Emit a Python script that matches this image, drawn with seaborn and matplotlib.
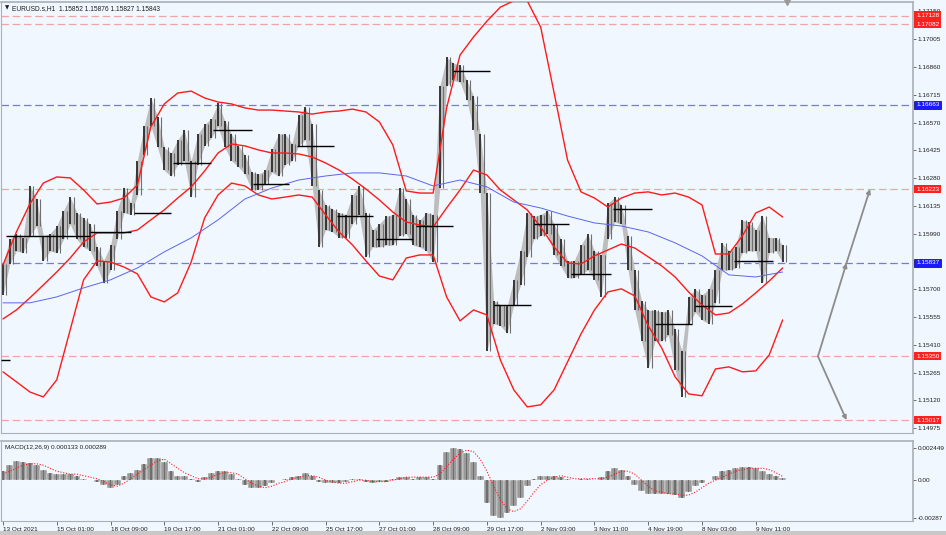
"""
EURUSD.s H1 chart with Bollinger bands, moving average, daily levels and MACD.
Writes out.png.
"""
import numpy as np
import pandas as pd
import matplotlib
matplotlib.use("Agg")
import matplotlib.pyplot as plt
import seaborn as sns

# ── data ───────────────────────────────────────────────────────────────────
# price ranges, one entry per 4 hourly bars
bar_high = [1.1583, 1.1596, 1.1599, 1.1597, 1.1624, 1.1617, 1.1598, 1.1599, 1.1603, 1.1611,
            1.1618, 1.1610, 1.1607, 1.1604, 1.1592, 1.1585, 1.1593, 1.1611, 1.1623, 1.1615,
            1.1637, 1.1655, 1.1670, 1.1660, 1.1644, 1.1641, 1.1648, 1.1653, 1.1637, 1.1651,
            1.1656, 1.1659, 1.1667, 1.1658, 1.1651, 1.1645, 1.1640, 1.1631, 1.1630, 1.1632,
            1.1643, 1.1651, 1.1651, 1.1646, 1.1661, 1.1665, 1.1656, 1.1622, 1.1614, 1.1612,
            1.1610, 1.1609, 1.1619, 1.1624, 1.1610, 1.1601, 1.1604, 1.1608, 1.1609, 1.1623,
            1.1617, 1.1609, 1.1606, 1.1610, 1.1609, 1.1676, 1.1691, 1.1688, 1.1687, 1.1679,
            1.1671, 1.1651, 1.1620, 1.1564, 1.1562, 1.1561, 1.1575, 1.1590, 1.1610, 1.1608,
            1.1609, 1.1611, 1.1604, 1.1596, 1.1585, 1.1585, 1.1593, 1.1599, 1.1590, 1.1588,
            1.1615, 1.1618, 1.1614, 1.1598, 1.1580, 1.1564, 1.1559, 1.1559, 1.1558, 1.1559,
            1.1549, 1.1538, 1.1566, 1.1570, 1.1567, 1.1570, 1.1580, 1.1594, 1.1590, 1.1592,
            1.1606, 1.1605, 1.1601, 1.1608, 1.1597, 1.1597, 1.1593]
bar_low = [1.1567, 1.1583, 1.1590, 1.1589, 1.1598, 1.1603, 1.1585, 1.1590, 1.1589, 1.1596,
           1.1604, 1.1596, 1.1592, 1.1590, 1.1582, 1.1573, 1.1580, 1.1596, 1.1610, 1.1609,
           1.1619, 1.1640, 1.1655, 1.1644, 1.1632, 1.1629, 1.1635, 1.1637, 1.1618, 1.1635,
           1.1645, 1.1649, 1.1655, 1.1644, 1.1637, 1.1634, 1.1630, 1.1622, 1.1622, 1.1625,
           1.1631, 1.1629, 1.1635, 1.1637, 1.1645, 1.1648, 1.1624, 1.1592, 1.1601, 1.1600,
           1.1597, 1.1597, 1.1604, 1.1609, 1.1587, 1.1592, 1.1592, 1.1593, 1.1593, 1.1598,
           1.1599, 1.1593, 1.1592, 1.1590, 1.1584, 1.1623, 1.1676, 1.1679, 1.1678, 1.1669,
           1.1653, 1.1620, 1.1538, 1.1552, 1.1551, 1.1547, 1.1562, 1.1572, 1.1587, 1.1596,
           1.1598, 1.1599, 1.1588, 1.1582, 1.1576, 1.1576, 1.1578, 1.1580, 1.1575, 1.1566,
           1.1596, 1.1605, 1.1604, 1.1580, 1.1559, 1.1543, 1.1529, 1.1543, 1.1543, 1.1546,
           1.1528, 1.1514, 1.1552, 1.1558, 1.1554, 1.1552, 1.1563, 1.1580, 1.1580, 1.1581,
           1.1589, 1.1590, 1.1590, 1.1573, 1.1589, 1.1590, 1.1584]

# Bollinger bands, one entry per 8 hourly bars
bb_upper = [1.15827, 1.15999, 1.16145, 1.16254, 1.16286, 1.16281, 1.16218, 1.16145, 1.16155, 1.16176,
            1.16244, 1.16547, 1.16667, 1.16724, 1.16734, 1.16698, 1.16677, 1.16667, 1.16646, 1.16635,
            1.16635, 1.16630, 1.16625, 1.16614, 1.16625, 1.16630, 1.16640, 1.16625, 1.16573, 1.16453,
            1.16213, 1.16202, 1.16202, 1.16646, 1.16922, 1.17016, 1.17099, 1.17172, 1.17205, 1.17205,
            1.17068, 1.16724, 1.16374, 1.16208, 1.16176, 1.16129, 1.16176, 1.16202, 1.16208, 1.16192,
            1.16202, 1.16181, 1.16140, 1.15884, 1.15884, 1.15978, 1.16098, 1.16129, 1.16077]
bb_middle = [1.15545, 1.15592, 1.15655, 1.15722, 1.15790, 1.15863, 1.15947, 1.15994, 1.15994, 1.15994,
             1.16009, 1.16062, 1.16114, 1.16176, 1.16234, 1.16317, 1.16411, 1.16458, 1.16448, 1.16427,
             1.16411, 1.16411, 1.16406, 1.16390, 1.16359, 1.16322, 1.16275, 1.16223, 1.16166, 1.16103,
             1.16051, 1.16035, 1.16025, 1.16124, 1.16218, 1.16322, 1.16296, 1.16218, 1.16166, 1.16114,
             1.16025, 1.15921, 1.15837, 1.15832, 1.15874, 1.15905, 1.15936, 1.15915, 1.15869, 1.15822,
             1.15764, 1.15686, 1.15618, 1.15566, 1.15576, 1.15623, 1.15681, 1.15743, 1.15811]
bb_lower = [1.15269, 1.15217, 1.15164, 1.15138, 1.15227, 1.15488, 1.15749, 1.15848, 1.15842, 1.15816,
            1.15780, 1.15660, 1.15634, 1.15681, 1.15842, 1.16072, 1.16192, 1.16254, 1.16239, 1.16192,
            1.16171, 1.16181, 1.16192, 1.16181, 1.16088, 1.15999, 1.15931, 1.15848, 1.15769, 1.15749,
            1.15863, 1.15879, 1.15879, 1.15660, 1.15535, 1.15592, 1.15566, 1.15331, 1.15175, 1.15086,
            1.15097, 1.15175, 1.15321, 1.15467, 1.15592, 1.15686, 1.15702, 1.15665, 1.15509, 1.15394,
            1.15243, 1.15154, 1.15144, 1.15284, 1.15295, 1.15269, 1.15274, 1.15357, 1.15540]

# moving average, one entry per 16 hourly bars
ma_line = [1.15629, 1.15629, 1.15660, 1.15707, 1.15749, 1.15811, 1.15895, 1.15968, 1.16062, 1.16171,
           1.16228, 1.16270, 1.16291, 1.16307, 1.16307, 1.16291, 1.16239, 1.16270, 1.16234, 1.16155,
           1.16124, 1.16082, 1.16046, 1.16030, 1.15999, 1.15942, 1.15874, 1.15775, 1.15764, 1.15790]

# daily level segments: first bar, last bar, price
day_start = [-1, 2, 28, 52, 78, 101, 125, 149, 175, 199, 222, 246, 268, 292, 316, 338, 363, 388, 412, 435]
day_end = [4, 28, 52, 76, 100, 124, 148, 170, 197, 220, 244, 268, 290, 314, 337, 362, 386, 410, 434, 458]
day_level = [1.1533, 1.1598, 1.1598, 1.1600, 1.1610, 1.1636, 1.1653, 1.1625, 1.1645, 1.1608,
             1.1596, 1.1603, 1.1684, 1.1562, 1.1604, 1.1578, 1.1612, 1.1552, 1.1561, 1.1585]

# horizontal levels
red_levels = [1.17128, 1.17082, 1.16223, 1.15350, 1.15017]
blue_levels = [1.16663, 1.15837]

# projection arrows (bar, price)
arrow_start = (485, 1.15350)
arrow_up = [(502, 1.15837), (516, 1.16223)]
arrow_down = (502, 1.15017)

# MACD histogram and signal, one entry per 4 hourly bars
macd_main = [0.00068, 0.00114, 0.00143, 0.00137, 0.00131, 0.00114, 0.00080, 0.00051, 0.00046, 0.00046,
             0.00048, 0.00034, 0.00011, 0.0, -0.00011, -0.00034, -0.00063, -0.00034, 0.00034, 0.00051,
             0.00080, 0.00125, 0.00171, 0.00171, 0.00137, 0.00068, 0.00034, 0.00029, 0.00011, -0.00011,
             0.00023, 0.00051, 0.00068, 0.00068, 0.00046, 0.00011, -0.00034, -0.00057, -0.00057, -0.00046,
             -0.00023, 0.0, 0.00011, 0.00023, 0.00034, 0.00051, 0.00034, -0.00011, -0.00023, -0.00023,
             -0.00023, -0.00011, 0.00011, 0.00011, -0.00011, -0.00023, -0.00011, -0.00011, 0.00011, 0.00023,
             0.00023, 0.00011, 0.00023, 0.00023, 0.00011, 0.00114, 0.00217, 0.002449, 0.00240, 0.00205,
             0.00137, 0.00034, -0.00171, -0.00274, -0.00287, -0.00251, -0.00194, -0.00137, -0.00046, 0.00011,
             0.00034, 0.00034, 0.00034, 0.00023, 0.00011, 0.0, 0.00011, 0.00011, 0.0, 0.00023,
             0.00068, 0.00091, 0.00080, 0.00034, -0.00034, -0.00080, -0.00103, -0.00103, -0.00103, -0.00103,
             -0.00114, -0.00137, -0.00091, -0.00046, -0.00023, 0.0, 0.00034, 0.00068, 0.00080, 0.00091,
             0.00103, 0.00103, 0.00091, 0.00068, 0.00046, 0.00034, 0.000133]
macd_signal = [0.00046, 0.00068, 0.00091, 0.00114, 0.00125, 0.00125, 0.00114, 0.00091, 0.00068, 0.00057,
               0.00046, 0.00046, 0.00034, 0.00023, 0.00011, -0.00011, -0.00034, -0.00046, -0.00023, 0.00011,
               0.00046, 0.00080, 0.00114, 0.00148, 0.00160, 0.00125, 0.00091, 0.00057, 0.00034, 0.00011,
               0.00011, 0.00023, 0.00046, 0.00057, 0.00057, 0.00046, 0.00011, -0.00023, -0.00046, -0.00057,
               -0.00046, -0.00023, -0.00011, 0.00011, 0.00023, 0.00034, 0.00034, 0.00023, 0.0, -0.00011,
               -0.00023, -0.00023, -0.00011, 0.0, 0.0, -0.00011, -0.00011, -0.00011, 0.0, 0.00011,
               0.00023, 0.00023, 0.00023, 0.00023, 0.00023, 0.00046, 0.00103, 0.00160, 0.00205, 0.00228,
               0.00217, 0.00160, 0.00068, -0.00046, -0.00148, -0.00217, -0.00239, -0.00217, -0.00160, -0.00091,
               -0.00034, 0.0, 0.00023, 0.00034, 0.00023, 0.00011, 0.00011, 0.00011, 0.00011, 0.00011,
               0.00023, 0.00046, 0.00068, 0.00068, 0.00046, 0.0, -0.00046, -0.00080, -0.00091, -0.00103,
               -0.00103, -0.00114, -0.00114, -0.00091, -0.00057, -0.00023, 0.0, 0.00023, 0.00046, 0.00068,
               0.00080, 0.00091, 0.00091, 0.00091, 0.00080, 0.00057, 0.000289]

# axis labels
time_labels = ["13 Oct 2021", "15 Oct 01:00", "18 Oct 09:00", "19 Oct 17:00", "21 Oct 01:00",
               "22 Oct 09:00", "25 Oct 17:00", "27 Oct 01:00", "28 Oct 09:00", "29 Oct 17:00",
               "2 Nov 03:00", "3 Nov 11:00", "4 Nov 19:00", "8 Nov 03:00", "9 Nov 11:00"]
price_ticks = [1.17150, 1.17005, 1.16860, 1.16715, 1.16570, 1.16425, 1.16280, 1.16135, 1.15990,
               1.15700, 1.15555, 1.15410, 1.15265, 1.15120, 1.14975]
macd_ticks = [0.002449, 0.0, -0.00287]
macd_tick_labels = ["0.002449", "0.00", "-0.00287"]

BG = "#f0f7fe"
RED = "#ff1a1a"
LEVEL_RED = "#f4a3a3"
LEVEL_BLUE = "#7474ff"
FRAME = "#a9b0b8"


def main():
    sns.set_theme(style="white")
    plt.rcParams["font.family"] = ["Liberation Sans", "DejaVu Sans"]

    fig = plt.figure(figsize=(9.46, 5.35), dpi=100, facecolor=BG)
    ax = fig.add_axes([0.001, 0.1907, 0.9640, 0.8056], facecolor=BG)
    ax2 = fig.add_axes([0.001, 0.0262, 0.9640, 0.1495], facecolor=BG)

    n = len(bar_high)
    x4 = np.arange(n) * 4
    x8 = np.arange(len(bb_upper)) * 8
    x16 = np.arange(len(ma_line)) * 16

    # ── main panel ────────────────────────────────────────────────────────
    for lv in red_levels:
        ax.axhline(lv, color=LEVEL_RED, lw=0.9, dashes=(6, 3), zorder=1)
    for lv in blue_levels:
        ax.axhline(lv, color=LEVEL_BLUE, lw=0.9, dashes=(6, 3), zorder=1)

    # candles: gray wick envelope with darker bodies
    ax.fill_between(x4, bar_low, bar_high, color="#bdbdbd", lw=0, zorder=2)
    ax.vlines(x4, bar_low, bar_high, color="#2a2a2a", lw=1.3, zorder=3)
    ax.vlines(x4 + 2, bar_low, bar_high, color="#707070", lw=0.8, zorder=3)

    bands = pd.DataFrame({"bar": x8, "upper": bb_upper, "middle": bb_middle, "lower": bb_lower})
    for col in ["upper", "middle", "lower"]:
        sns.lineplot(data=bands, x="bar", y=col, color=RED, lw=1.0, ax=ax, zorder=4)
    ma = pd.DataFrame({"bar": x16, "ma": ma_line})
    sns.lineplot(data=ma, x="bar", y="ma", color="#5b66ee", lw=0.7, ax=ax, zorder=4)

    ax.hlines(day_level, day_start, day_end, color="black", lw=1.0, zorder=5)

    arrow_kw = dict(arrowstyle="-|>", color="#8c8c8c", lw=1.3, mutation_scale=6, shrinkA=0, shrinkB=0)
    ax.annotate("", xy=arrow_up[0], xytext=arrow_start, arrowprops=arrow_kw)
    ax.annotate("", xy=arrow_up[1], xytext=arrow_up[0], arrowprops=arrow_kw)
    ax.annotate("", xy=arrow_down, xytext=arrow_start, arrowprops=arrow_kw)

    ax.set_xlim(-1.2, 541.5)
    ax.set_ylim(1.14950, 1.17199)
    ax.set(xlabel="", ylabel="")
    ax.set_xticks([])
    ax.yaxis.tick_right()
    ax.set_yticks(price_ticks)
    ax.set_yticklabels([f"{p:.5f}" for p in price_ticks])
    ax.tick_params(axis="y", right=True, length=2, width=0.6, color="#555555",
                   labelsize=4.6, pad=1.5, labelcolor="#202020")

    # price tags on the right axis
    ytr = ax.get_yaxis_transform()
    for lv in red_levels:
        ax.text(1.0035, lv, f"{lv:.5f}", transform=ytr, ha="left", va="center", fontsize=4.6,
                color="white", bbox=dict(boxstyle="square,pad=0.25", fc="#ff2020", ec="none"),
                clip_on=False, zorder=10)
    for lv in blue_levels:
        ax.text(1.0035, lv, f"{lv:.5f}", transform=ytr, ha="left", va="center", fontsize=4.6,
                color="white", bbox=dict(boxstyle="square,pad=0.25", fc="#1a1aff", ec="#000060", lw=0.5),
                clip_on=False, zorder=10)

    ax.text(0.004, 0.993, "\u25bc", transform=ax.transAxes, ha="left", va="top", fontsize=4,
            color="#202020", family=["DejaVu Sans"])
    ax.text(0.012, 0.994, "EURUSD.s,H1  1.15852 1.15876 1.15827 1.15843", transform=ax.transAxes,
            ha="left", va="top", fontsize=4.8, color="#202020")
    ax.plot([466.5], [1.17199], marker="v", ms=4, color="#9a9a9a", clip_on=False, zorder=10)

    # ── MACD panel ────────────────────────────────────────────────────────
    ax2.bar(x4, macd_main, width=4.0, color="#9a9a9a", edgecolor="white", lw=0.3, zorder=2)
    ax2.bar(x4, macd_main, width=0.8, color="#6e6e6e", edgecolor="none", zorder=2)
    sig = pd.DataFrame({"bar": x4, "signal": macd_signal})
    sns.lineplot(data=sig, x="bar", y="signal", color=RED, lw=0.8, ax=ax2, zorder=3)
    ax2.lines[-1].set_linestyle((0, (1, 1.5)))
    ax2.set_xlim(-1.2, 541.5)
    ax2.set_ylim(-0.0031, 0.00298)
    ax2.set(xlabel="", ylabel="")
    ax2.yaxis.tick_right()
    ax2.set_yticks(macd_ticks)
    ax2.set_yticklabels(macd_tick_labels)
    ax2.tick_params(axis="y", right=True, length=2, width=0.6, color="#555555",
                    labelsize=4.6, pad=1.5, labelcolor="#202020")
    ax2.set_xticks(np.arange(len(time_labels)) * 32)
    ax2.set_xticklabels(time_labels, ha="left")
    ax2.tick_params(axis="x", bottom=True, length=3, width=0.6, color="#555555",
                    labelsize=4.6, pad=1.0, labelcolor="#202020")
    ax2.text(0.004, 0.95, "MACD(12,26,9) 0.000133 0.000289", transform=ax2.transAxes,
             ha="left", va="top", fontsize=4.6, color="#202020")

    for a in (ax, ax2):
        for side, sp in a.spines.items():
            sp.set_color(FRAME)
            sp.set_linewidth(1.2 if side in ("right", "top") else 0.8)

    fig.patches.append(plt.Rectangle((0, 0), 1, 0.007, transform=fig.transFigure,
                                     fc="#c8c8c8", ec="none"))
    fig.savefig("out.png", dpi=100, facecolor=BG)


if __name__ == "__main__":
    main()
